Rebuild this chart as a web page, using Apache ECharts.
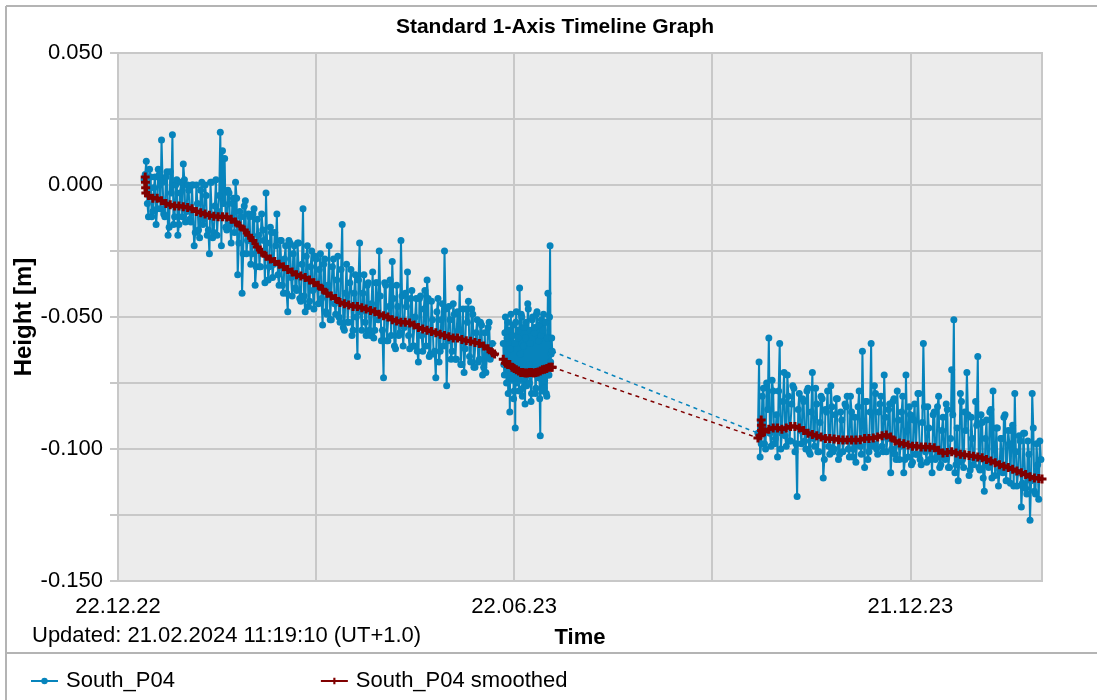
<!DOCTYPE html>
<html>
<head>
<meta charset="utf-8">
<title>Standard 1-Axis Timeline Graph</title>
<script src="https://cdn.jsdelivr.net/npm/echarts@6/dist/echarts.min.js"></script>
<style>
  html, body { margin: 0; padding: 0; background: #fff; }
  #chart { width: 1097px; height: 700px; }
</style>
</head>
<body>
<div id="chart"></div>
<script>
// time axis is counted in days since the first labelled date
const baseDate = '2022-12-22'
const axisEndDay = 424.5

// raw measurements, three blocks at a fixed sampling step
const rawSegStart = ['2023-01-03', '2023-06-17', '2023-10-12']
const rawSegStepHours = [12, 6, 12]

const rawSeg1 = [
  0.002, 0.004, 0.009, -0.007, -0.012, 0.006, 0.003, -0.012, -0.010, -0.001,
  0.003, -0.015, -0.009, 0.006, 0.004, -0.009, 0.017, 0.001, -0.011, -0.012,
  0.003, 0.005, -0.019, -0.016, 0.005, -0.003, 0.019, -0.015, -0.012, 0.000,
  0.002, -0.019, -0.015, -0.003, 0.001, -0.012, 0.008, 0.002, -0.014, -0.010,
  0.000, -0.002, -0.013, -0.014, 0.000, 0.000, -0.023, -0.018, 0.000, -0.007,
  -0.017, -0.020, -0.002, 0.001, -0.015, -0.013, 0.000, -0.004, -0.019, -0.017,
  -0.026, 0.001, 0.001, -0.020, -0.018, -0.008, 0.002, -0.019, -0.010, -0.004,
  0.020, -0.023, 0.013, -0.007, 0.010, -0.016, -0.017, -0.002, -0.003, -0.015,
  -0.022, -0.007, -0.005, -0.018, 0.001, -0.005, -0.034, -0.022, -0.010, -0.012,
  -0.041, -0.026, -0.008, -0.006, -0.026, -0.021, -0.011, -0.012, -0.030, -0.026,
  -0.011, -0.009, -0.038, -0.031, -0.013, -0.019, -0.031, -0.031, -0.011, -0.017,
  -0.021, -0.037, -0.003, -0.022, -0.036, -0.031, -0.016, -0.018, -0.035, -0.030,
  -0.018, -0.023, -0.011, -0.034, -0.038, -0.021, -0.021, -0.038, -0.041, -0.028,
  -0.023, -0.041, -0.048, -0.021, -0.022, -0.035, -0.042, -0.026, -0.023, -0.039,
  -0.040, -0.022, -0.022, -0.043, -0.044, -0.030, -0.009, -0.042, -0.048, -0.027,
  -0.023, -0.046, -0.044, -0.031, -0.025, -0.040, -0.047, -0.027, -0.028, -0.039,
  -0.045, -0.032, -0.026, -0.043, -0.053, -0.030, -0.028, -0.048, -0.049, -0.038,
  -0.023, -0.051, -0.051, -0.031, -0.028, -0.045, -0.049, -0.036, -0.027, -0.050,
  -0.052, -0.032, -0.015, -0.054, -0.055, -0.041, -0.030, -0.052, -0.052, -0.037,
  -0.032, -0.057, -0.055, -0.041, -0.034, -0.050, -0.065, -0.036, -0.022, -0.048,
  -0.055, -0.041, -0.034, -0.052, -0.057, -0.038, -0.037, -0.055, -0.057, -0.045,
  -0.033, -0.058, -0.055, -0.037, -0.037, -0.051, -0.025, -0.042, -0.059, -0.055,
  -0.073, -0.037, -0.038, -0.059, -0.059, -0.046, -0.036, -0.057, -0.029, -0.043,
  -0.061, -0.062, -0.038, -0.046, -0.057, -0.056, -0.021, -0.042, -0.061, -0.054,
  -0.041, -0.046, -0.033, -0.057, -0.062, -0.043, -0.040, -0.061, -0.061, -0.050,
  -0.043, -0.063, -0.067, -0.043, -0.042, -0.057, -0.063, -0.047, -0.040, -0.061,
  -0.036, -0.043, -0.065, -0.064, -0.044, -0.051, -0.064, -0.063, -0.073, -0.048,
  -0.043, -0.067, -0.063, -0.051, -0.045, -0.061, -0.025, -0.047, -0.076, -0.059,
  -0.046, -0.051, -0.066, -0.063, -0.045, -0.049, -0.066, -0.066, -0.048, -0.055,
  -0.039, -0.068, -0.068, -0.047, -0.071, -0.062, -0.047, -0.052, -0.044, -0.065,
  -0.067, -0.047, -0.049, -0.069, -0.069, -0.056, -0.051, -0.067, -0.066, -0.052,
  -0.053, -0.072, -0.069, -0.056, -0.071, -0.065, -0.054, -0.052, -0.066, -0.064,
  -0.060
]

const rawSeg2 = [
  -0.060, -0.068, -0.072, -0.056, -0.050, -0.066, -0.075, -0.058, -0.052, -0.079,
  -0.070, -0.055, -0.086, -0.062, -0.049, -0.071, -0.074, -0.057, -0.053, -0.081,
  -0.078, -0.060, -0.092, -0.052, -0.048, -0.075, -0.069, -0.058, -0.055, -0.078,
  -0.039, -0.064, -0.074, -0.049, -0.050, -0.080, -0.077, -0.061, -0.054, -0.073,
  -0.083, -0.058, -0.052, -0.076, -0.072, -0.045, -0.047, -0.068, -0.075, -0.060,
  -0.055, -0.082, -0.079, -0.051, -0.050, -0.071, -0.070, -0.056, -0.054, -0.079,
  -0.077, -0.049, -0.048, -0.070, -0.073, -0.059, -0.053, -0.081, -0.095, -0.057,
  -0.051, -0.074, -0.078, -0.055, -0.049, -0.077, -0.074, -0.052, -0.052, -0.079,
  -0.080, -0.058, -0.041, -0.072, -0.072, -0.050, -0.023, -0.067, -0.064, -0.058,
  -0.063
]

const rawSeg3 = [
  -0.094, -0.067, -0.103, -0.098, -0.080, -0.077, -0.098, -0.100, -0.075, -0.085,
  -0.058, -0.094, -0.099, -0.074, -0.078, -0.098, -0.096, -0.087, -0.103, -0.078,
  -0.060, -0.100, -0.094, -0.082, -0.071, -0.095, -0.099, -0.072, -0.080, -0.097,
  -0.097, -0.083, -0.076, -0.077, -0.101, -0.098, -0.118, -0.085, -0.079, -0.093,
  -0.098, -0.081, -0.082, -0.097, -0.100, -0.078, -0.077, -0.101, -0.102, -0.086,
  -0.071, -0.096, -0.099, -0.077, -0.083, -0.101, -0.101, -0.090, -0.080, -0.081,
  -0.111, -0.104, -0.085, -0.086, -0.078, -0.099, -0.102, -0.076, -0.084, -0.101,
  -0.100, -0.087, -0.081, -0.081, -0.104, -0.102, -0.086, -0.089, -0.101, -0.097,
  -0.083, -0.084, -0.080, -0.100, -0.103, -0.080, -0.086, -0.103, -0.100, -0.088,
  -0.105, -0.098, -0.084, -0.078, -0.099, -0.102, -0.063, -0.091, -0.107, -0.082,
  -0.082, -0.104, -0.101, -0.086, -0.060, -0.099, -0.098, -0.076, -0.079, -0.100,
  -0.102, -0.086, -0.083, -0.080, -0.099, -0.101, -0.072, -0.088, -0.101, -0.096,
  -0.085, -0.083, -0.109, -0.100, -0.082, -0.081, -0.102, -0.104, -0.078, -0.089,
  -0.104, -0.099, -0.086, -0.080, -0.109, -0.104, -0.072, -0.093, -0.103, -0.084,
  -0.087, -0.106, -0.105, -0.089, -0.083, -0.102, -0.102, -0.079, -0.079, -0.104,
  -0.106, -0.090, -0.060, -0.084, -0.101, -0.105, -0.084, -0.092, -0.104, -0.100,
  -0.109, -0.087, -0.086, -0.104, -0.103, -0.084, -0.080, -0.107, -0.106, -0.093,
  -0.088, -0.103, -0.104, -0.083, -0.085, -0.107, -0.107, -0.096, -0.070, -0.087,
  -0.051, -0.109, -0.106, -0.092, -0.112, -0.105, -0.079, -0.082, -0.104, -0.107,
  -0.086, -0.093, -0.071, -0.087, -0.110, -0.108, -0.088, -0.096, -0.106, -0.104,
  -0.082, -0.091, -0.065, -0.107, -0.108, -0.087, -0.090, -0.111, -0.116, -0.096,
  -0.089, -0.106, -0.107, -0.086, -0.085, -0.111, -0.078, -0.100, -0.110, -0.092,
  -0.092, -0.114, -0.108, -0.096, -0.096, -0.109, -0.088, -0.087, -0.112, -0.112,
  -0.093, -0.098, -0.113, -0.093, -0.091, -0.114, -0.079, -0.101, -0.114, -0.109,
  -0.095, -0.097, -0.122, -0.113, -0.094, -0.094, -0.115, -0.117, -0.097, -0.102,
  -0.127, -0.112, -0.079, -0.092, -0.116, -0.117, -0.098, -0.106, -0.119, -0.097,
  -0.104
]

// smoothed series (day, height)
const smoothDays = [
  12.5, 12.6, 12.7, 12.8, 14, 16, 18, 20, 22, 24, 26, 28, 30, 32, 34, 36, 38, 40,
  42, 44, 46, 48, 50, 52, 54, 56, 58, 60, 62, 64, 66, 68, 70, 72, 74, 76, 78, 80,
  82, 84, 86, 88, 90, 92, 94, 96, 98, 100, 102, 104, 106, 108, 110, 112, 114, 116,
  118, 120, 122, 124, 126, 128, 130, 132, 134, 136, 138, 140, 142, 144, 146, 148,
  150, 152, 154, 156, 158, 160, 162, 164, 166, 168, 170, 172, 173,
  177, 178, 179, 180, 181, 182, 183, 184, 185, 186, 187, 188, 189, 190, 191, 192,
  193, 194, 195, 196, 197, 198, 199, 199.5,
  294, 295, 295.5, 295.6, 295.7, 297, 299, 301, 303, 305, 307, 309, 311, 313, 315,
  317, 319, 321, 323, 325, 327, 329, 331, 333, 335, 337, 339, 341, 343, 345, 347,
  349, 351, 353, 355, 357, 359, 361, 363, 365, 367, 369, 371, 373, 375, 377, 379,
  381, 383, 385, 387, 389, 391, 393, 395, 397, 399, 401, 403, 405, 407, 409, 411,
  413, 415, 417, 419, 421, 423, 424.5
]
const smoothHeights = [
  0.003, 0.001, -0.001, -0.003, -0.004, -0.005, -0.005, -0.006, -0.007, -0.0075,
  -0.008, -0.008, -0.0082, -0.0085, -0.009, -0.010, -0.0105, -0.011, -0.0115, -0.0118,
  -0.012, -0.012, -0.0121, -0.013, -0.014, -0.0155, -0.017, -0.019, -0.021, -0.0235,
  -0.0255, -0.027, -0.028, -0.029, -0.030, -0.031, -0.032, -0.033, -0.034, -0.0345,
  -0.035, -0.036, -0.037, -0.038, -0.0395, -0.041, -0.042, -0.043, -0.0445, -0.045,
  -0.0455, -0.046, -0.046, -0.0465, -0.047, -0.0475, -0.048, -0.049, -0.0495, -0.050,
  -0.051, -0.0515, -0.052, -0.052, -0.0523, -0.053, -0.054, -0.0545, -0.055, -0.0555,
  -0.056, -0.0565, -0.057, -0.0575, -0.058, -0.058, -0.0585, -0.059, -0.0592, -0.0597,
  -0.060, -0.061, -0.062, -0.0635, -0.064,
  -0.066, -0.0675, -0.068, -0.068, -0.069, -0.0695, -0.070, -0.0705, -0.071, -0.071,
  -0.0712, -0.0712, -0.071, -0.071, -0.0712, -0.071, -0.0708, -0.0705, -0.070, -0.0698,
  -0.0695, -0.069, -0.069, -0.069,
  -0.0958, -0.095, -0.089, -0.091, -0.093, -0.0935, -0.0925, -0.092, -0.092, -0.0925,
  -0.092, -0.0915, -0.0915, -0.092, -0.093, -0.094, -0.0945, -0.095, -0.0955, -0.096,
  -0.096, -0.0962, -0.0965, -0.0966, -0.0966, -0.0966, -0.0966, -0.0965, -0.096, -0.096,
  -0.0958, -0.0955, -0.095, -0.0947, -0.0955, -0.097, -0.0977, -0.098, -0.0985, -0.099,
  -0.099, -0.0992, -0.0992, -0.0993, -0.0995, -0.1005, -0.1015, -0.1013, -0.101, -0.1015,
  -0.102, -0.1022, -0.1025, -0.1027, -0.103, -0.1033, -0.104, -0.1045, -0.1052, -0.106,
  -0.1065, -0.107, -0.1077, -0.1083, -0.109, -0.1097, -0.1105, -0.111, -0.1112, -0.1114
]

const BLUE = '#0784bc'
const RED = '#800000'
const GRID = '#c8c8c8'
const FONT = "'Liberation Sans', Arial, sans-serif"
const PLUS = 'path://M2,0h2v2h2v2h-2v2h-2v-2h-2v-2h2z'

function toDay(str) {
  return (Date.parse(str) - Date.parse(baseDate)) / 86400000
}

function dayLabel(d) {
  const dt = new Date(Date.parse(baseDate) + Math.round(d) * 86400000)
  const p = n => String(n).padStart(2, '0')
  return p(dt.getUTCDate()) + '.' + p(dt.getUTCMonth() + 1) + '.' + p(dt.getUTCFullYear() % 100)
}

// split into runs wherever the time step jumps
function splitRuns(days, vals, maxGap) {
  const runs = []
  let cur = []
  days.forEach((d, i) => {
    if (cur.length && d - cur[cur.length - 1][0] > maxGap) {
      runs.push(cur)
      cur = []
    }
    cur.push([d, vals[i]])
  })
  if (cur.length) runs.push(cur)
  return runs
}

const rawDays = []
const rawVals = []
;[rawSeg1, rawSeg2, rawSeg3].forEach((seg, s) => {
  const start = toDay(rawSegStart[s])
  seg.forEach((v, i) => {
    rawDays.push(start + i * rawSegStepHours[s] / 24)
    rawVals.push(v)
  })
})

const rawRuns = splitRuns(rawDays, rawVals, 3)
const smoothRuns = splitRuns(smoothDays, smoothHeights, 3)

function gapSeries(runs, color) {
  const out = []
  for (let i = 0; i < runs.length - 1; i++) {
    out.push({
      type: 'line',
      silent: true,
      symbol: 'none',
      data: [runs[i][runs[i].length - 1], runs[i + 1][0]],
      lineStyle: { color: color, width: 1.5, type: [4, 4] },
      z: 1
    })
  }
  return out
}

const series = [
  ...gapSeries(rawRuns, BLUE),
  ...rawRuns.map(run => ({
    name: 'South_P04',
    type: 'line',
    data: run,
    symbol: 'circle',
    symbolSize: 7,
    color: BLUE,
    lineStyle: { color: BLUE, width: 2 },
    itemStyle: { color: BLUE },
    emphasis: { disabled: true },
    z: 2
  })),
  ...gapSeries(smoothRuns, RED),
  ...smoothRuns.map(run => ({
    name: 'South_P04 smoothed',
    type: 'line',
    data: run,
    symbol: PLUS,
    symbolSize: 9,
    color: RED,
    lineStyle: { color: RED, width: 4.5 },
    itemStyle: { color: RED },
    emphasis: { disabled: true },
    z: 3
  }))
]

const chart = echarts.init(document.getElementById('chart'))

chart.setOption({
  animation: false,
  backgroundColor: '#ffffff',
  textStyle: { fontFamily: FONT },
  grid: {
    left: 118,
    right: 55,
    top: 53,
    bottom: 119,
    outerBoundsMode: 'none',
    show: true,
    backgroundColor: '#ececec',
    borderColor: GRID,
    borderWidth: 2
  },
  legend: {
    data: ['South_P04', 'South_P04 smoothed'],
    left: 25,
    top: 665,
    itemWidth: 27,
    itemHeight: 8,
    itemGap: 145,
    textStyle: { fontSize: 22, color: '#000', fontFamily: FONT, padding: [0, 0, 0, 3] }
  },
  xAxis: {
    type: 'value',
    min: 0,
    max: axisEndDay,
    interval: 91,
    name: 'Time',
    nameLocation: 'middle',
    nameGap: 46,
    nameMoveOverlap: false,
    nameTextStyle: { fontSize: 22, fontWeight: 'bold', color: '#000', fontFamily: FONT },
    axisLine: { show: true, lineStyle: { color: GRID, width: 2 } },
    axisTick: { show: true, length: 9, lineStyle: { color: GRID, width: 2 } },
    splitLine: { show: true, lineStyle: { color: GRID, width: 2 } },
    axisLabel: {
      fontSize: 22,
      color: '#000',
      margin: 15,
      showMinLabel: true,
      showMaxLabel: false,
      formatter: d => (Math.round(d) % 182 === 0 ? dayLabel(d) : '')
    }
  },
  yAxis: {
    type: 'value',
    min: -0.15,
    max: 0.05,
    interval: 0.025,
    name: 'Height [m]',
    nameLocation: 'middle',
    nameGap: 82,
    nameMoveOverlap: false,
    nameTextStyle: { fontSize: 24, fontWeight: 'bold', color: '#000', fontFamily: FONT },
    axisLine: { show: true, lineStyle: { color: GRID, width: 2 } },
    axisTick: { show: true, length: 8, lineStyle: { color: GRID, width: 2 } },
    splitLine: { show: true, lineStyle: { color: GRID, width: 2 } },
    axisLabel: {
      fontSize: 22,
      color: '#000',
      margin: 15,
      formatter: v => {
        const k = Math.round(v * 1000)
        return k % 50 === 0 ? (k / 1000).toFixed(3) : ''
      }
    }
  },
  graphic: [
    { type: 'line', shape: { x1: 6, y1: 6, x2: 1097, y2: 6 }, style: { stroke: '#b4b4b4', lineWidth: 2 } },
    { type: 'line', shape: { x1: 6, y1: 6, x2: 6, y2: 700 }, style: { stroke: '#b4b4b4', lineWidth: 2 } },
    { type: 'line', shape: { x1: 6, y1: 653, x2: 1097, y2: 653 }, style: { stroke: '#b4b4b4', lineWidth: 2 } },
    {
      type: 'text',
      x: 555,
      y: 27,
      style: {
        text: 'Standard 1-Axis Timeline Graph',
        font: 'bold 21px ' + FONT,
        fill: '#000',
        textAlign: 'center',
        textVerticalAlign: 'middle'
      }
    },
    {
      type: 'text',
      x: 32,
      y: 636,
      style: {
        text: 'Updated: 21.02.2024 11:19:10 (UT+1.0)',
        font: '22px ' + FONT,
        fill: '#000',
        textAlign: 'left',
        textVerticalAlign: 'middle'
      }
    }
  ],
  series: series
})

window.addEventListener('resize', () => chart.resize())
</script>
</body>
</html>
